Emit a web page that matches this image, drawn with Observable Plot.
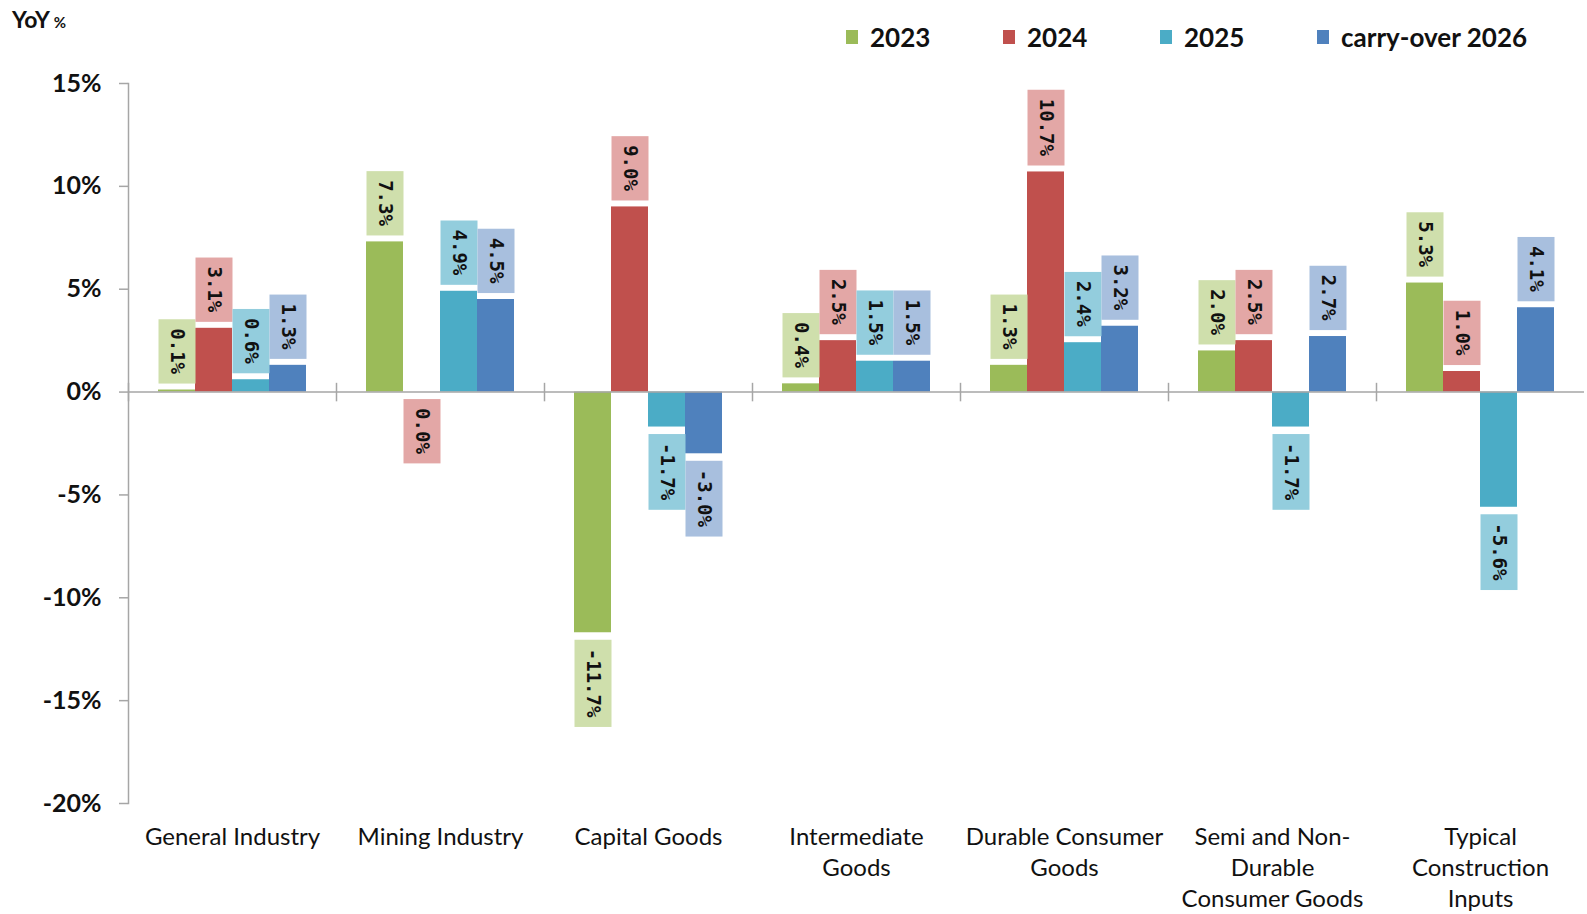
<!DOCTYPE html>
<html><head><meta charset="utf-8">
<script src="https://cdn.jsdelivr.net/npm/d3@7"></script>
<script src="https://cdn.jsdelivr.net/npm/@observablehq/plot@0.6"></script>
<style>
body{margin:0;background:#fff;font-family:Lato,sans-serif;}
#wrap{position:relative;width:1587px;height:914px;overflow:hidden;}
#chart{position:absolute;left:0;top:0;}
#yoy{position:absolute;left:12px;top:5px;font-weight:700;font-size:23px;line-height:28px;color:#111;}
#yoy span{font-size:15px;margin-left:4px;}
#legend{position:absolute;top:22px;left:846px;display:flex;font-weight:700;font-size:26px;color:#111;}
.item{display:flex;align-items:center;width:157px;height:30px;line-height:30px;}
.sw{width:12px;height:14px;margin-right:12px;flex:none;}
</style></head><body>
<div id="wrap"><div id="chart"></div><div id="yoy">YoY<span>%</span></div><div id="legend"></div></div>
<script>
const categories = ["General Industry","Mining Industry","Capital Goods","Intermediate Goods","Durable Consumer Goods","Semi and Non-Durable Consumer Goods","Typical Construction Inputs"];
const categoryLabels = ["General Industry","Mining Industry","Capital Goods","Intermediate\nGoods","Durable Consumer\nGoods","Semi and Non-\nDurable\nConsumer Goods","Typical\nConstruction\nInputs"];
const series = ["2023","2024","2025","carry-over 2026"];
const v2023 = [0.1, 7.3, -11.7, 0.4, 1.3, 2.0, 5.3];
const v2024 = [3.1, 0.0, 9.0, 2.5, 10.7, 2.5, 1.0];
const v2025 = [0.6, 4.9, -1.7, 1.5, 2.4, -1.7, -5.6];
const vCarry = [1.3, 4.5, -3.0, 1.5, 3.2, 2.7, 4.1];
const yTicks = [-20, -15, -10, -5, 0, 5, 10, 15];
const barColors = ["#9BBB59", "#C0504D", "#4BACC6", "#4F81BD"];
const boxColors = ["#CFDFAC", "#E3A7A6", "#93CDDD", "#A8BFDE"];

const rows = [];
[v2023, v2024, v2025, vCarry].forEach((vals, s) =>
  vals.forEach((v, c) => rows.push({cat: categories[c], series: series[s], value: v, label: v.toFixed(1) + "%"})));
const pos = rows.filter(d => d.value > 0);
const neg = rows.filter(d => d.value <= 0);

const W = 1587, H = 914, mt = 83, mb = 111, ml = 127, mr = 3;
const innerH = H - mt - mb;
const yDom = [-20, 15];
const zeroFromTop = innerH * (yDom[1] - 0) / (yDom[1] - yDom[0]);
const gap = 7, pad = 9;

const plot = Plot.plot({
  width: W, height: H, marginTop: mt, marginBottom: mb, marginLeft: ml, marginRight: mr,
  style: {fontFamily: "Lato, sans-serif", background: "white", overflow: "visible"},
  fx: {domain: categories, padding: 0, axis: null},
  x: {domain: series, paddingInner: 0, paddingOuter: 0.8, axis: null},
  y: {domain: yDom, axis: null},
  color: {domain: series, range: barColors},
  marks: [
    Plot.barY(rows, {fx: "cat", x: "series", y: "value", fill: "series"}),
    Plot.ruleY([0], {stroke: "#a6a6a6", strokeWidth: 1.5}),
    Plot.frame({anchor: "left", stroke: "#a6a6a6", strokeWidth: 1.5, insetTop: zeroFromTop - 8.5, insetBottom: innerH - zeroFromTop - 8.5}),
    Plot.frame({anchor: "left", facetAnchor: "left", stroke: "#a6a6a6", strokeWidth: 1.5}),
    Plot.axisY({ticks: yTicks, tickFormat: d => d + "%", label: null, tickSize: 9, tickPadding: 18, fontSize: 25, fontWeight: "bold", stroke: "#a6a6a6", strokeWidth: 1.5, fill: "#111", facetAnchor: "left"}),
    Plot.text(pos, {fx: "cat", x: "series", y: "value", text: "label", rotate: 90, textAnchor: "end", lineAnchor: "middle", dy: -(gap + pad), fontFamily: "DejaVu Sans Mono", fontWeight: "bold", fontSize: 19, fill: "#111", ariaLabel: "series"}),
    Plot.text(neg, {fx: "cat", x: "series", y: "value", text: "label", rotate: 90, textAnchor: "start", lineAnchor: "middle", dy: gap + pad, fontFamily: "DejaVu Sans Mono", fontWeight: "bold", fontSize: 19, fill: "#111", ariaLabel: "series"}),
    Plot.text(categories, {fx: d => d, text: (d, i) => categoryLabels[i], frameAnchor: "bottom", lineAnchor: "top", dy: 20, fontSize: 24, lineHeight: 1.29, fill: "#111"})
  ]
});
document.getElementById("chart").append(plot);

// label boxes behind the rotated value labels
const bw = plot.scale("x").bandwidth;
plot.querySelectorAll("text").forEach(t => {
  const k = series.indexOf(t.getAttribute("aria-label"));
  if (k < 0) return;
  const bb = t.getBBox();
  const r = document.createElementNS("http://www.w3.org/2000/svg", "rect");
  const tr = t.getAttribute("transform");
  if (tr) r.setAttribute("transform", tr);
  r.setAttribute("x", bb.x - pad);
  r.setAttribute("width", bb.width + 2 * pad);
  r.setAttribute("y", -bw / 2);
  r.setAttribute("height", bw);
  r.setAttribute("fill", boxColors[k]);
  t.parentNode.insertBefore(r, t);
});

// legend
const lg = d3.select("#legend");
series.forEach((s, i) => {
  const it = lg.append("div").attr("class", "item");
  if (i === series.length - 1) it.style("width", "auto");
  it.append("div").attr("class", "sw").style("background", barColors[i]);
  it.append("div").text(s);
});
</script>
</body></html>
